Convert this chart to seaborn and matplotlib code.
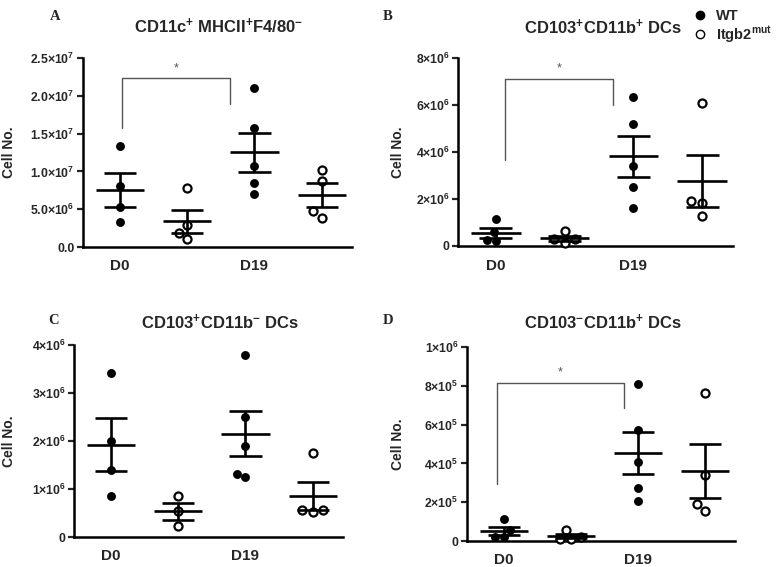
import numpy as np
import pandas as pd
import matplotlib
matplotlib.use("Agg")
import matplotlib.pyplot as plt
from matplotlib.lines import Line2D
import seaborn as sns

groups = ["D0 WT", "D0 mut", "D19 WT", "D19 mut"]
day_labels = ["D0", "D19"]

# A: CD11c+ MHCII+ F4/80-
a_d0_wt = [1.34e7, 0.81e7, 0.535e7, 0.33e7]
a_d0_mut = [0.78e7, 0.29e7, 0.19e7, 0.10e7]
a_d19_wt = [2.10e7, 1.57e7, 1.075e7, 0.84e7, 0.695e7]
a_d19_mut = [1.02e7, 0.87e7, 0.47e7, 0.39e7]
a_ticks = [0, 0.5e7, 1.0e7, 1.5e7, 2.0e7, 2.5e7]
a_ticklabels = ["0.0", "5.0×10$^{6}$", "1.0×10$^{7}$", "1.5×10$^{7}$", "2.0×10$^{7}$", "2.5×10$^{7}$"]

# B: CD103+CD11b+ DCs
b_d0_wt = [1.14e6, 0.58e6, 0.21e6, 0.26e6]
b_d0_mut = [0.65e6, 0.28e6, 0.14e6, 0.28e6]
b_d19_wt = [6.35e6, 5.2e6, 3.42e6, 2.49e6, 1.62e6]
b_d19_mut = [6.07e6, 1.90e6, 1.82e6, 1.28e6]
b_ticks = [0, 2e6, 4e6, 6e6, 8e6]
b_ticklabels = ["0", "2×10$^{6}$", "4×10$^{6}$", "6×10$^{6}$", "8×10$^{6}$"]

# C: CD103+CD11b- DCs
c_d0_wt = [3.42e6, 2.01e6, 1.39e6, 0.86e6]
c_d0_mut = [0.85e6, 0.54e6, 0.22e6]
c_d19_wt = [3.79e6, 2.51e6, 1.89e6, 1.32e6, 1.25e6]
c_d19_mut = [1.75e6, 0.57e6, 0.52e6, 0.57e6]
c_ticks = [0, 1e6, 2e6, 3e6, 4e6]
c_ticklabels = ["0", "1×10$^{6}$", "2×10$^{6}$", "3×10$^{6}$", "4×10$^{6}$"]

# D: CD103-CD11b+ DCs
d_d0_wt = [0.111e6, 0.055e6, 0.020e6, 0.020e6]
d_d0_mut = [0.057e6, 0.022e6, 0.009e6, 0.009e6]
d_d19_wt = [0.811e6, 0.573e6, 0.408e6, 0.274e6, 0.208e6]
d_d19_mut = [0.765e6, 0.34e6, 0.19e6, 0.154e6]
d_ticks = [0, 2e5, 4e5, 6e5, 8e5, 1e6]
d_ticklabels = ["0", "2×10$^{5}$", "4×10$^{5}$", "6×10$^{5}$", "8×10$^{5}$", "1×10$^{6}$"]

sns.set_theme(style="ticks")
plt.rcParams["font.family"] = ["Liberation Sans", "DejaVu Sans"]
plt.rcParams["font.weight"] = "bold"
plt.rcParams["mathtext.default"] = "regular"

W, H = 778, 567
fig = plt.figure(figsize=(W / 100, H / 100), dpi=100)


def px_axes(left, top, right, bottom):
    return fig.add_axes([left / W, 1 - bottom / H, (right - left) / W, (bottom - top) / H])


def draw_panel(ax, series, ticks, ticklabels, bracket=None):
    rows = []
    for name, vals in zip(groups, series):
        for v in vals:
            rows.append({"group": name, "geno": name.split()[1], "value": v})
    df = pd.DataFrame(rows)

    sns.swarmplot(data=df[df.geno == "WT"], x="group", y="value", order=groups,
                  color="black", size=6.4, ax=ax, clip_on=False, zorder=3)
    n_before = len(ax.collections)
    sns.swarmplot(data=df[df.geno == "mut"], x="group", y="value", order=groups,
                  color="white", size=5.8, ax=ax, clip_on=False, zorder=3)
    # open circles for the mutant groups
    for pts in ax.collections[n_before:]:
        pts.set_facecolor("white")
        pts.set_edgecolor("black")
        pts.set_linewidth(1.6)

    # mean +/- SEM
    for i, vals in enumerate(series):
        v = np.asarray(vals)
        m = v.mean()
        s = v.std(ddof=1) / np.sqrt(len(v))
        ax.hlines(m, i - 0.36, i + 0.36, color="black", lw=1.9, zorder=4)
        ax.vlines(i, m - s, m + s, color="black", lw=1.9, zorder=4)
        ax.hlines([m - s, m + s], i - 0.24, i + 0.24, color="black", lw=1.9, zorder=4)

    if bracket is not None:
        x0, x1, y_left, y_top, y_right = bracket
        ax.plot([x0, x0, x1, x1], [y_left, y_top, y_top, y_right],
                color="#555555", lw=1.0, clip_on=False)
        ax.text((x0 + x1) / 2, y_top + (ticks[-1] * 0.055), "*", ha="center", va="center",
                fontsize=9, color="#555555", fontweight="normal")

    ax.set_xlim(-0.55, 3.45)
    ax.set_ylim(0, ticks[-1])
    ax.set_xticks([0, 2])
    ax.set_xticklabels(day_labels, fontsize=11, fontweight="bold")
    ax.set_yticks(ticks)
    ax.set_yticklabels(ticklabels, fontsize=8.8, fontweight="bold")
    ax.tick_params(axis="x", length=0, pad=9)
    ax.tick_params(axis="y", length=4, width=1.6, pad=2)
    ax.set_xlabel("")
    ax.set_ylabel("")
    for side in ["top", "right"]:
        ax.spines[side].set_visible(False)
    for side in ["left", "bottom"]:
        ax.spines[side].set_linewidth(1.8)
        ax.spines[side].set_color("black")


ax_a = px_axes(83, 58, 352, 247)
draw_panel(ax_a, [a_d0_wt, a_d0_mut, a_d19_wt, a_d19_mut], a_ticks, a_ticklabels,
           bracket=(0.03, 1.63, 1.57e7, 2.23e7, 1.89e7))
ax_b = px_axes(458, 58, 733, 246)
draw_panel(ax_b, [b_d0_wt, b_d0_mut, b_d19_wt, b_d19_mut], b_ticks, b_ticklabels,
           bracket=(0.13, 1.7, 3.64e6, 7.1e6, 6.01e6))
ax_c = px_axes(74, 345, 343, 537)
draw_panel(ax_c, [c_d0_wt, c_d0_mut, c_d19_wt, c_d19_mut], c_ticks, c_ticklabels)
ax_d = px_axes(467, 347, 735, 541)
draw_panel(ax_d, [d_d0_wt, d_d0_mut, d_d19_wt, d_d19_mut], d_ticks, d_ticklabels,
           bracket=(-0.1, 1.79, 0.293e6, 0.815e6, 0.686e6))

# titles, panel letters, y labels
titles = [
    (219, 26, "CD11c$^{+}$ MHCII$^{+}$F4/80$^{-}$"),
    (603, 27, "CD103$^{+}$CD11b$^{+}$ DCs"),
    (220, 322, "CD103$^{+}$CD11b$^{-}$ DCs"),
    (603, 322, "CD103$^{-}$CD11b$^{+}$ DCs"),
]
for x, y, t in titles:
    fig.text(x / W, 1 - y / H, t, ha="center", va="center", fontsize=12, fontweight="bold")

letters = [(55, 17, "A"), (388, 17, "B"), (54, 320, "C"), (388, 320, "D")]
for x, y, t in letters:
    fig.text(x / W, 1 - y / H, t, ha="center", va="center", fontsize=10.5,
             fontweight="bold", family="Liberation Serif")

for x, y in [(9, 152), (398, 152), (9, 441), (398, 444)]:
    fig.text(x / W, 1 - y / H, "Cell No.", ha="center", va="center", rotation=90,
             fontsize=10, fontweight="bold")

handles = [
    Line2D([], [], marker="o", linestyle="none", markersize=6, markerfacecolor="black",
           markeredgecolor="black"),
    Line2D([], [], marker="o", linestyle="none", markersize=6, markerfacecolor="white",
           markeredgecolor="black", markeredgewidth=1.0),
]
fig.legend(handles, ["WT", "Itgb2$^{mut}$"], loc="upper left",
           bbox_to_anchor=(684 / W, 1 - 0 / H), frameon=False, fontsize=10.5,
           handletextpad=0.6, labelspacing=0.1, handlelength=1.0, borderpad=0.1)

fig.savefig("out.png", dpi=100)
